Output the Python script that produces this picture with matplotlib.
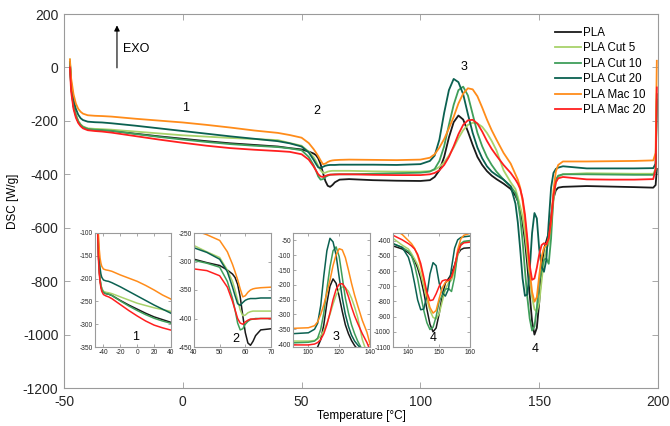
import matplotlib
matplotlib.use("Agg")
import matplotlib.pyplot as plt

plt.rcParams['font.family'] = ['Liberation Sans', 'DejaVu Sans']
plt.rcParams['axes.unicode_minus'] = False

# temperatura [°C]
T = [-47.5, -47, -46, -45, -44, -43, -42, -40, -37, -34,
     -30, -20, -10, 0, 10, 20, 30, 40, 45, 50,
     53, 55, 56, 57, 58, 59, 60, 61, 62, 63,
     64, 66, 70, 80, 90, 100, 104, 106, 108, 110,
     112, 114, 116, 118, 120, 122, 124, 126, 128, 130,
     132, 135, 138, 140, 141, 142, 143, 144, 145, 146,
     147, 148, 149, 150, 151, 152, 153, 154, 155, 156,
     157, 158, 160, 170, 180, 190, 198, 199, 199.5]

pla = [15, -70, -145, -180, -203, -215, -223, -230, -233, -234,
       -237, -248, -258, -267, -276, -284, -290, -296, -302, -307,
       -315, -322, -328, -340, -362, -395, -425, -443, -447, -440,
       -430, -420, -418, -422, -424, -425, -422, -410, -385, -335,
       -262, -205, -180, -195, -240, -290, -335, -365, -388, -405,
       -418, -435, -455, -480, -500, -530, -580, -650, -740, -850,
       -950, -1000, -975, -880, -760, -680, -650, -620, -560, -490,
       -460, -450, -447, -444, -446, -448, -450, -440, -380]

cut5 = [30, -60, -140, -175, -200, -213, -221, -228, -230, -231,
        -233, -240, -247, -254, -259, -264, -268, -272, -283, -293,
        -315, -335, -350, -368, -385, -395, -394, -390, -388, -387,
        -387, -387, -387, -389, -390, -390, -388, -383, -372, -355,
        -330, -300, -265, -235, -215, -207, -210, -222, -245, -275,
        -310, -385, -430, -455, -485, -520, -560, -620, -700, -790,
        -860, -905, -915, -880, -800, -720, -680, -660, -600, -500,
        -430, -410, -400, -396, -397, -398, -398, -380, -130]

cut10 = [20, -70, -145, -180, -203, -215, -223, -230, -233, -234,
         -237, -249, -260, -270, -279, -287, -293, -298, -303, -310,
         -335, -365, -385, -408, -420, -418, -410, -405, -402, -401,
         -400, -400, -400, -398, -396, -394, -390, -380, -350, -295,
         -215, -140, -85, -72, -105, -175, -245, -295, -335, -365,
         -390, -420, -445, -470, -500, -560, -650, -760, -860, -940,
         -985, -970, -900, -800, -760, -720, -715, -735, -640, -480,
         -420, -405, -400, -400, -401, -402, -402, -390, -120]

cut20 = [20, -55, -120, -155, -177, -190, -197, -203, -205, -206,
         -209, -218, -228, -238, -248, -258, -267, -276, -284, -296,
         -318, -345, -360, -374, -377, -372, -368, -366, -365, -365,
         -365, -364, -364, -364, -365, -362, -350, -330, -270, -170,
         -85, -43, -55, -100, -175, -245, -300, -340, -370, -390,
         -403, -420, -445, -510, -580, -680, -790, -855, -850, -760,
         -620, -545, -565, -680, -745, -765, -720, -580, -450, -395,
         -380, -375, -370, -378, -378, -378, -377, -360, -100]

mac10 = [30, -40, -100, -135, -155, -166, -173, -179, -181, -182,
         -184, -192, -199, -206, -215, -225, -236, -245, -253, -263,
         -283, -305, -318, -332, -348, -362, -360, -354, -350, -348,
         -347, -346, -345, -346, -347, -345, -338, -325, -300, -268,
         -228, -185, -135, -98, -78, -82, -108, -150, -195, -235,
         -270, -320, -360, -400, -420, -450, -500, -570, -660, -760,
         -840, -877, -860, -780, -710, -675, -665, -640, -580, -460,
         -390, -365, -352, -352, -351, -350, -348, -320, 25]

mac20 = [0, -90, -155, -188, -208, -220, -228, -235, -238, -240,
         -244, -257, -270, -282, -293, -302, -308, -313, -316, -325,
         -345, -370, -385, -400, -408, -410, -406, -403, -401, -401,
         -401, -400, -400, -402, -403, -403, -400, -395, -385, -365,
         -335, -295, -250, -215, -198, -196, -210, -240, -275, -305,
         -330, -365, -395, -420, -435, -455, -490, -550, -640, -740,
         -795, -790, -750, -700, -665, -658, -662, -640, -570, -480,
         -430, -415, -410, -419, -420, -420, -418, -380, -75]

labels = ['PLA', 'PLA Cut 5', 'PLA Cut 10', 'PLA Cut 20', 'PLA Mac 10', 'PLA Mac 20']
series = [pla, cut5, cut10, cut20, mac10, mac20]
colors = ['#1a1a1a', '#a8d26a', '#3f9e5a', '#0b6151', '#ff8c1a', '#ff1f1f']

GRAY = '#9a9a9a'


def style_axes(ax, size, length, pad):
    for s in ax.spines.values():
        s.set_color(GRAY)
        s.set_linewidth(0.8)
    ax.tick_params(direction='in', top=True, right=True, color=GRAY, pad=pad,
                   labelsize=size, labelcolor='#262626', length=length, width=0.6)


fig = plt.figure(figsize=(6.7, 4.26), dpi=100)
ax = fig.add_axes([0.0955, 0.0892, 0.8866, 0.8779])
for y, c, l in zip(series, colors, labels):
    ax.plot(T, y, color=c, lw=1.3, label=l)
ax.set_xlim(-50, 200)
ax.set_ylim(-1200, 200)
ax.set_xticks(range(-50, 201, 50))
ax.set_yticks(range(-1200, 201, 200))
style_axes(ax, 10, 4, 4)
ax.tick_params(axis='x', pad=5)
ax.set_xlabel('Temperature [°C]', fontsize=8.5, labelpad=1)
ax.set_ylabel('DSC [W/g]', fontsize=8.5, labelpad=3)

leg = ax.legend(loc='upper right', bbox_to_anchor=(651 / 670, 1 - 21 / 426),
                bbox_transform=fig.transFigure, frameon=False, fontsize=8.3,
                handlelength=2.25, handletextpad=0.15, labelspacing=0.3, borderpad=0)

ax.annotate('', xy=(-27.7, 168), xytext=(-27.7, -12),
            arrowprops=dict(arrowstyle='-|>', color='black', lw=0.8, mutation_scale=8))
ax.text(-25, 70, 'EXO', fontsize=9, va='center')
ax.text(1, -150, '1', fontsize=9, ha='center', va='center')
ax.text(56.5, -164, '2', fontsize=9, ha='center', va='center')
ax.text(118.5, 0, '3', fontsize=9, ha='center', va='center')
ax.text(148.5, -1054, '4', fontsize=9, ha='center', va='center')

# wstawki (powiększenia)
insets = [
    ([95, 76], (-50, 40), (-350, -100), [-40, -20, 0, 20, 40], range(-350, -99, 50), (-1.5, -328), '1'),
    ([194, 77], (40, 70), (-450, -250), [40, 50, 60, 70], range(-450, -249, 50), (56.4, -436), '2'),
    ([293, 77], (90, 140), (-410, -25), [100, 120, 140], range(-400, -49, 50), (117.8, -377), '3'),
    ([393, 77], (135, 160), (-1100, -350), [140, 150, 160], range(-1100, -399, 100), (148.1, -1041), '4'),
]
for (x0, w), xl, yl, xt, yt, pos, num in insets:
    axi = fig.add_axes([x0 / 670, (426 - 347) / 426, w / 670, 114 / 426])
    for y, c in zip(series, colors):
        axi.plot(T, y, color=c, lw=1.1)
    axi.set_xlim(*xl)
    axi.set_ylim(*yl)
    axi.set_xticks(xt)
    axi.set_yticks(list(yt))
    style_axes(axi, 4.8, 2, 1.5)
    axi.text(pos[0], pos[1], num, fontsize=9, ha='center', va='center')

fig.savefig('out.png', dpi=100)
